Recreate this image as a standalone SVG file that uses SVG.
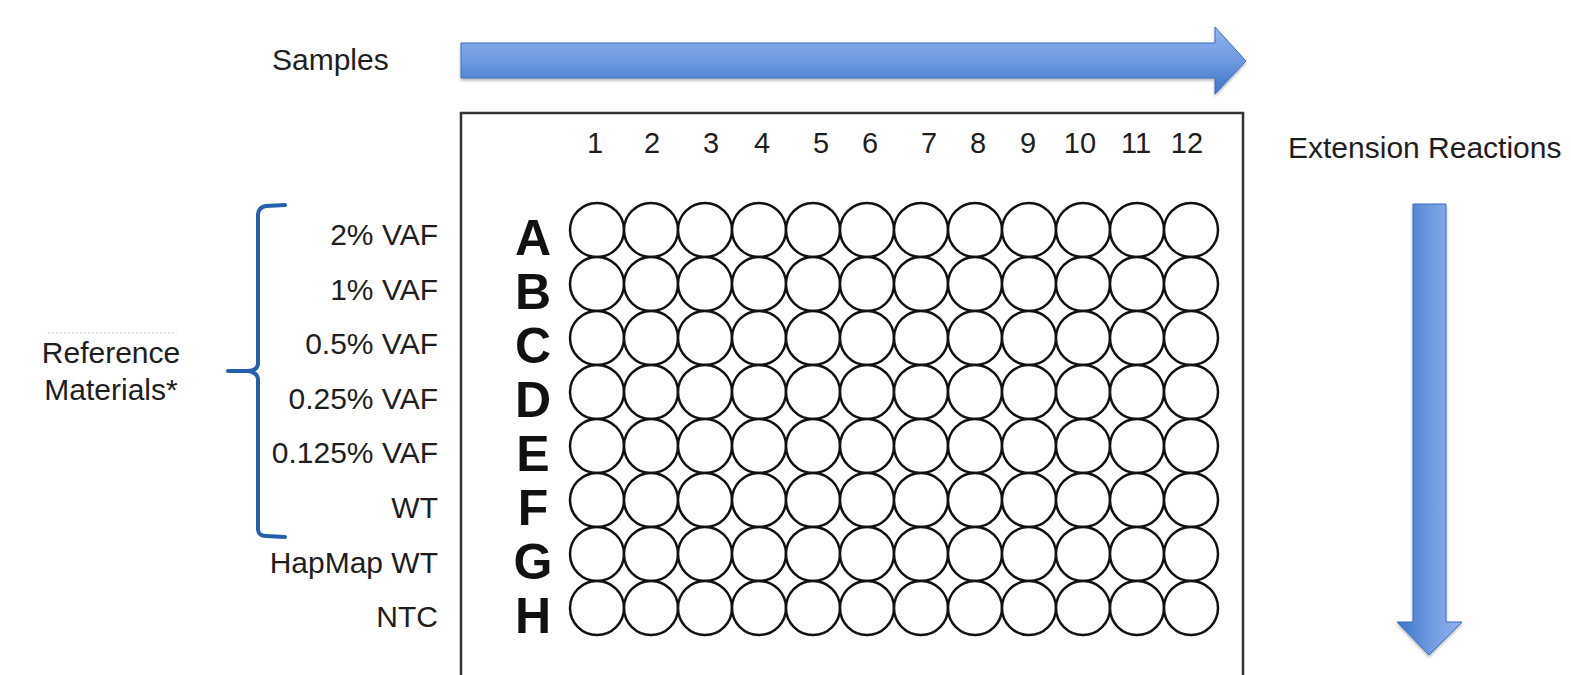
<svg xmlns="http://www.w3.org/2000/svg" width="1571" height="675" viewBox="0 0 1571 675">
<defs>
<linearGradient id="gH" x1="0" y1="0" x2="0" y2="1">
<stop offset="0" stop-color="#93b3ee"/>
<stop offset="0.5" stop-color="#6e9ae0"/>
<stop offset="1" stop-color="#3a74c6"/>
</linearGradient>
<linearGradient id="gV" x1="0" y1="0" x2="1" y2="0">
<stop offset="0" stop-color="#3a74c6"/>
<stop offset="0.5" stop-color="#6e9ae0"/>
<stop offset="1" stop-color="#93b3ee"/>
</linearGradient>
<filter id="sh" x="-5%" y="-5%" width="110%" height="110%">
<feGaussianBlur in="SourceAlpha" stdDeviation="1.5"/>
<feOffset dx="0" dy="2"/>
<feComponentTransfer><feFuncA type="linear" slope="0.3"/></feComponentTransfer>
<feMerge><feMergeNode/><feMergeNode in="SourceGraphic"/></feMerge>
</filter>
</defs>
<style>
.lbl{font-family:"Liberation Sans",Arial,sans-serif;font-size:30px;fill:#1e1e1e}
.num{font-family:"Liberation Sans",Arial,sans-serif;font-size:29px;fill:#1e1e1e;text-anchor:middle}
.row{font-family:"Liberation Sans",Arial,sans-serif;font-size:50px;font-weight:bold;fill:#111;text-anchor:middle}
.well{fill:#fff;stroke:#111;stroke-width:2.5}
.end{text-anchor:end}
</style>
<rect width="1571" height="675" fill="#fff"/>

<g id="samples-label"><text class="lbl" x="272" y="70">Samples</text></g>
<g id="samples-arrow"><path d="M461 43 H1215 V27 L1246 61 L1215 94 V78 H461 Z" fill="url(#gH)" stroke="#3a6fbf" stroke-width="1" filter="url(#sh)"/></g>

<g id="ext-label"><text class="lbl" x="1288" y="158">Extension Reactions</text></g>
<g id="ext-arrow"><path d="M1413 204 H1446 V622 H1462 L1429 655 L1397 622 H1413 Z" fill="url(#gV)" stroke="#3a6fbf" stroke-width="1" filter="url(#sh)"/></g>

<g id="plate">
<rect x="461" y="113" width="782" height="600" fill="none" stroke="#333" stroke-width="2.5"/>
<g id="col-numbers">
<text class="num" x="595" y="153">1</text>
<text class="num" x="652" y="153">2</text>
<text class="num" x="711" y="153">3</text>
<text class="num" x="762" y="153">4</text>
<text class="num" x="821" y="153">5</text>
<text class="num" x="870" y="153">6</text>
<text class="num" x="929" y="153">7</text>
<text class="num" x="978" y="153">8</text>
<text class="num" x="1028" y="153">9</text>
<text class="num" x="1080" y="153">10</text>
<text class="num" x="1136" y="153">11</text>
<text class="num" x="1187" y="153">12</text>
</g>
<g id="row-letters">
<text class="row" x="533" y="255">A</text>
<text class="row" x="533" y="309">B</text>
<text class="row" x="533" y="363">C</text>
<text class="row" x="533" y="417">D</text>
<text class="row" x="533" y="471">E</text>
<text class="row" x="533" y="525">F</text>
<text class="row" x="533" y="579">G</text>
<text class="row" x="533" y="633">H</text>
</g>
<g id="wells">
<g id="wells-A">
<circle class="well" cx="597" cy="230" r="27"/><circle class="well" cx="651" cy="230" r="27"/><circle class="well" cx="705" cy="230" r="27"/><circle class="well" cx="759" cy="230" r="27"/><circle class="well" cx="813" cy="230" r="27"/><circle class="well" cx="867" cy="230" r="27"/><circle class="well" cx="921" cy="230" r="27"/><circle class="well" cx="975" cy="230" r="27"/><circle class="well" cx="1029" cy="230" r="27"/><circle class="well" cx="1083" cy="230" r="27"/><circle class="well" cx="1137" cy="230" r="27"/><circle class="well" cx="1191" cy="230" r="27"/>
</g>
<g id="wells-B">
<circle class="well" cx="597" cy="284" r="27"/><circle class="well" cx="651" cy="284" r="27"/><circle class="well" cx="705" cy="284" r="27"/><circle class="well" cx="759" cy="284" r="27"/><circle class="well" cx="813" cy="284" r="27"/><circle class="well" cx="867" cy="284" r="27"/><circle class="well" cx="921" cy="284" r="27"/><circle class="well" cx="975" cy="284" r="27"/><circle class="well" cx="1029" cy="284" r="27"/><circle class="well" cx="1083" cy="284" r="27"/><circle class="well" cx="1137" cy="284" r="27"/><circle class="well" cx="1191" cy="284" r="27"/>
</g>
<g id="wells-C">
<circle class="well" cx="597" cy="338" r="27"/><circle class="well" cx="651" cy="338" r="27"/><circle class="well" cx="705" cy="338" r="27"/><circle class="well" cx="759" cy="338" r="27"/><circle class="well" cx="813" cy="338" r="27"/><circle class="well" cx="867" cy="338" r="27"/><circle class="well" cx="921" cy="338" r="27"/><circle class="well" cx="975" cy="338" r="27"/><circle class="well" cx="1029" cy="338" r="27"/><circle class="well" cx="1083" cy="338" r="27"/><circle class="well" cx="1137" cy="338" r="27"/><circle class="well" cx="1191" cy="338" r="27"/>
</g>
<g id="wells-D">
<circle class="well" cx="597" cy="392" r="27"/><circle class="well" cx="651" cy="392" r="27"/><circle class="well" cx="705" cy="392" r="27"/><circle class="well" cx="759" cy="392" r="27"/><circle class="well" cx="813" cy="392" r="27"/><circle class="well" cx="867" cy="392" r="27"/><circle class="well" cx="921" cy="392" r="27"/><circle class="well" cx="975" cy="392" r="27"/><circle class="well" cx="1029" cy="392" r="27"/><circle class="well" cx="1083" cy="392" r="27"/><circle class="well" cx="1137" cy="392" r="27"/><circle class="well" cx="1191" cy="392" r="27"/>
</g>
<g id="wells-E">
<circle class="well" cx="597" cy="446" r="27"/><circle class="well" cx="651" cy="446" r="27"/><circle class="well" cx="705" cy="446" r="27"/><circle class="well" cx="759" cy="446" r="27"/><circle class="well" cx="813" cy="446" r="27"/><circle class="well" cx="867" cy="446" r="27"/><circle class="well" cx="921" cy="446" r="27"/><circle class="well" cx="975" cy="446" r="27"/><circle class="well" cx="1029" cy="446" r="27"/><circle class="well" cx="1083" cy="446" r="27"/><circle class="well" cx="1137" cy="446" r="27"/><circle class="well" cx="1191" cy="446" r="27"/>
</g>
<g id="wells-F">
<circle class="well" cx="597" cy="500" r="27"/><circle class="well" cx="651" cy="500" r="27"/><circle class="well" cx="705" cy="500" r="27"/><circle class="well" cx="759" cy="500" r="27"/><circle class="well" cx="813" cy="500" r="27"/><circle class="well" cx="867" cy="500" r="27"/><circle class="well" cx="921" cy="500" r="27"/><circle class="well" cx="975" cy="500" r="27"/><circle class="well" cx="1029" cy="500" r="27"/><circle class="well" cx="1083" cy="500" r="27"/><circle class="well" cx="1137" cy="500" r="27"/><circle class="well" cx="1191" cy="500" r="27"/>
</g>
<g id="wells-G">
<circle class="well" cx="597" cy="554" r="27"/><circle class="well" cx="651" cy="554" r="27"/><circle class="well" cx="705" cy="554" r="27"/><circle class="well" cx="759" cy="554" r="27"/><circle class="well" cx="813" cy="554" r="27"/><circle class="well" cx="867" cy="554" r="27"/><circle class="well" cx="921" cy="554" r="27"/><circle class="well" cx="975" cy="554" r="27"/><circle class="well" cx="1029" cy="554" r="27"/><circle class="well" cx="1083" cy="554" r="27"/><circle class="well" cx="1137" cy="554" r="27"/><circle class="well" cx="1191" cy="554" r="27"/>
</g>
<g id="wells-H">
<circle class="well" cx="597" cy="608" r="27"/><circle class="well" cx="651" cy="608" r="27"/><circle class="well" cx="705" cy="608" r="27"/><circle class="well" cx="759" cy="608" r="27"/><circle class="well" cx="813" cy="608" r="27"/><circle class="well" cx="867" cy="608" r="27"/><circle class="well" cx="921" cy="608" r="27"/><circle class="well" cx="975" cy="608" r="27"/><circle class="well" cx="1029" cy="608" r="27"/><circle class="well" cx="1083" cy="608" r="27"/><circle class="well" cx="1137" cy="608" r="27"/><circle class="well" cx="1191" cy="608" r="27"/>
</g>
</g>
</g>

<g id="row-labels">
<text class="lbl end" x="438" y="245">2% VAF</text>
<text class="lbl end" x="438" y="300">1% VAF</text>
<text class="lbl end" x="438" y="354">0.5% VAF</text>
<text class="lbl end" x="438" y="409">0.25% VAF</text>
<text class="lbl end" x="438" y="463">0.125% VAF</text>
<text class="lbl end" x="438" y="518">WT</text>
<text class="lbl end" x="438" y="573">HapMap WT</text>
<text class="lbl end" x="438" y="627">NTC</text>
</g>

<g id="connectors">
<path id="brace" d="M285 205 L266 206 Q259 207 258 214 V364 Q257 371 248 371 L228 371 L248 371 Q257 372 258 379 V530 Q259 536 266 536 L285 537" fill="none" stroke="#2660ad" stroke-width="4" stroke-linecap="round" stroke-linejoin="round"/>
</g>

<g id="ref-label">
<line x1="48" y1="333" x2="177" y2="333" stroke="#f3c6c6" stroke-width="1" stroke-dasharray="2,2"/>
<text class="lbl" x="111" y="363" text-anchor="middle">Reference</text>
<text class="lbl" x="111" y="400" text-anchor="middle">Materials*</text>
</g>
</svg>
